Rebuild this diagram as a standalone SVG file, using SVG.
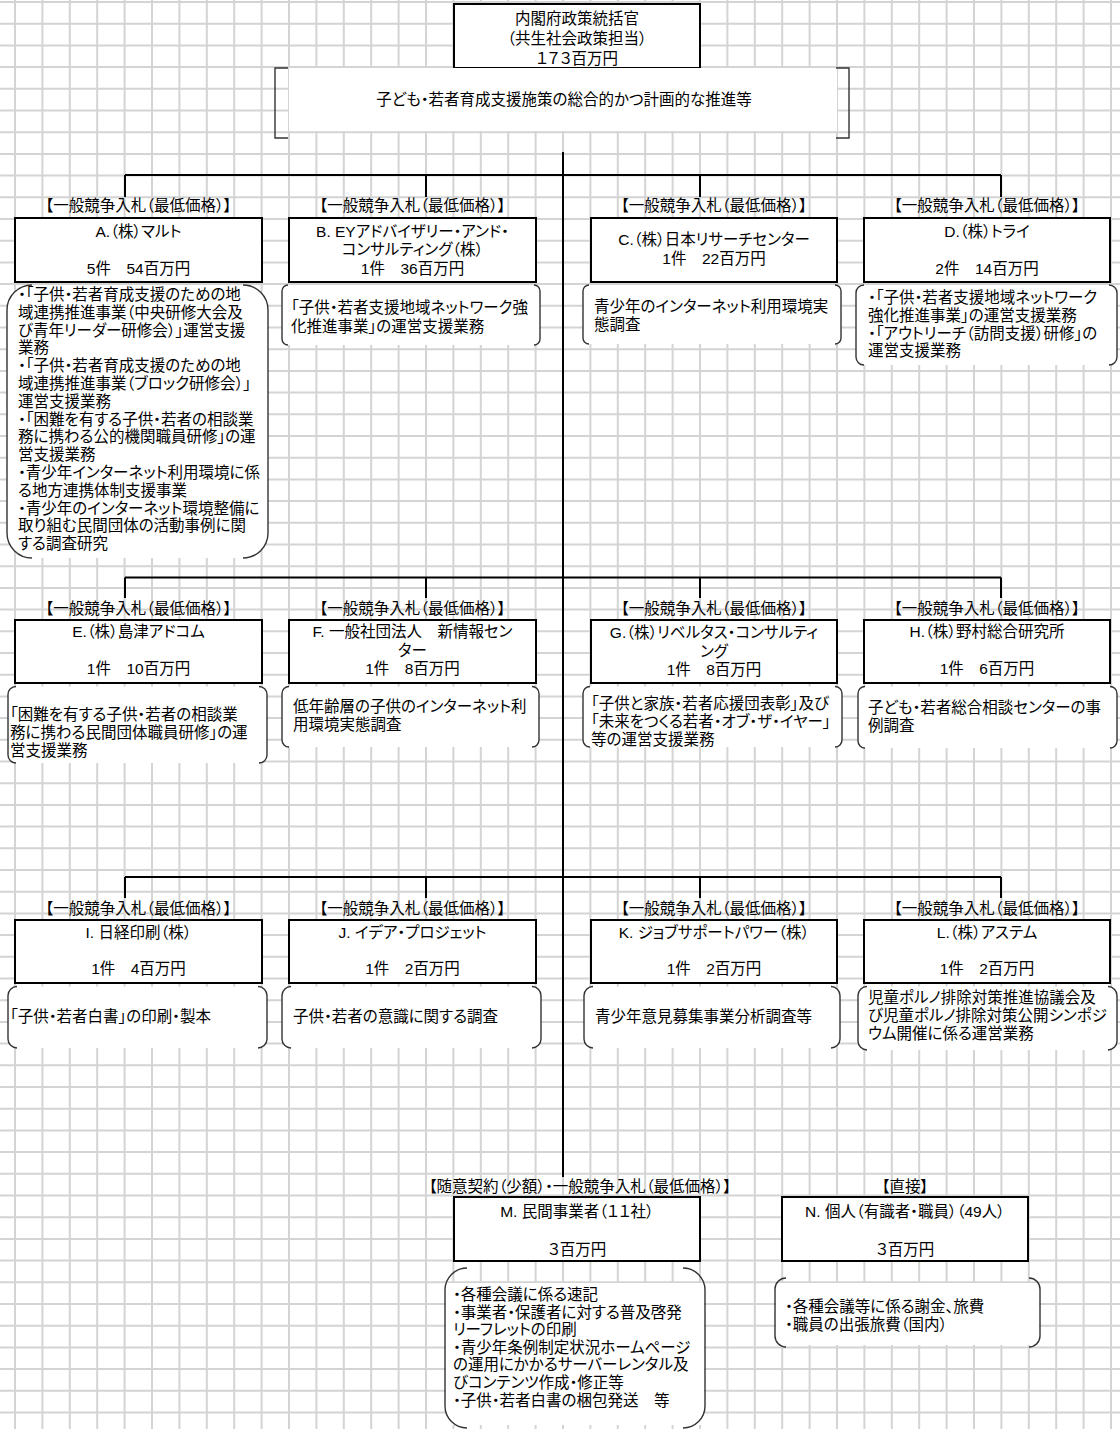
<svg xmlns="http://www.w3.org/2000/svg" width="1120" height="1429" viewBox="0 0 1120 1429">
<style>
text{font-family:"Liberation Sans","Noto Sans CJK JP",sans-serif;font-size:15.5px;fill:#000;font-feature-settings:"palt"}
.m{text-anchor:middle}
.bx{fill:#fff;stroke:#000;stroke-width:2}
.ln{fill:none;stroke:#000;stroke-width:2}
.bk{fill:none;stroke:#333;stroke-width:1.4}
.wf{fill:#fff}
.gr{fill:none;stroke:#d4d4d4;stroke-width:2}
</style>
<rect width="1120" height="1429" fill="#fff"/>
<path class="gr" d="M15 0V1429M42.4 0V1429M69.8 0V1429M97.2 0V1429M124.6 0V1429M152 0V1429M179.4 0V1429M206.8 0V1429M234.2 0V1429M261.6 0V1429M289 0V1429M316.4 0V1429M343.8 0V1429M371.2 0V1429M398.6 0V1429M426 0V1429M453.4 0V1429M480.8 0V1429M508.2 0V1429M535.6 0V1429M563 0V1429M590.4 0V1429M617.8 0V1429M645.2 0V1429M672.6 0V1429M700 0V1429M727.4 0V1429M754.8 0V1429M782.2 0V1429M809.6 0V1429M837 0V1429M864.4 0V1429M891.8 0V1429M919.2 0V1429M946.6 0V1429M974 0V1429M1001.4 0V1429M1028.8 0V1429M1056.2 0V1429M1083.6 0V1429M1111 0V1429
M0 2H1120M0 23.7H1120M0 45.4H1120M0 67.1H1120M0 88.8H1120M0 110.5H1120M0 132.2H1120M0 153.9H1120M0 175.6H1120M0 197.3H1120M0 219H1120M0 240.7H1120M0 262.4H1120M0 284.1H1120M0 305.8H1120M0 327.5H1120M0 349.2H1120M0 370.9H1120M0 392.6H1120M0 414.3H1120M0 436H1120M0 457.7H1120M0 479.4H1120M0 501.1H1120M0 522.8H1120M0 544.5H1120M0 566.2H1120M0 587.9H1120M0 609.6H1120M0 631.3H1120M0 653H1120M0 674.7H1120M0 696.4H1120M0 718.1H1120M0 739.8H1120M0 761.5H1120M0 783.2H1120M0 804.9H1120M0 826.6H1120M0 848.3H1120M0 870H1120M0 891.7H1120M0 913.4H1120M0 935.1H1120M0 956.8H1120M0 978.5H1120M0 1000.2H1120M0 1021.9H1120M0 1043.6H1120M0 1065.3H1120M0 1087H1120M0 1108.7H1120M0 1130.4H1120M0 1152.1H1120M0 1173.8H1120M0 1195.5H1120M0 1217.2H1120M0 1238.9H1120M0 1260.6H1120M0 1282.3H1120M0 1304H1120M0 1325.7H1120M0 1347.4H1120M0 1369.1H1120M0 1390.8H1120M0 1412.5H1120"/>

<g id="connectors">
<path class="ln" d="M563 152V1177"/>
<path class="ln" d="M125 175H1001M125 175V197M426 175V197M700 175V197M1001 175V197"/>
<path class="ln" d="M125 577.5H1001M125 577.5V598M426 577.5V598M700 577.5V598M1001 577.5V598"/>
<path class="ln" d="M125 877H1001M125 877V898M426 877V898M700 877V898M1001 877V898"/>
</g>

<g id="root">
<rect class="bx" x="454" y="4" width="246" height="64"/>
<text class="m" x="577" y="23.5">内閣府政策統括官</text>
<text class="m" x="577" y="44">（共生社会政策担当）</text>
<text class="m" x="577" y="64">１７３百万円</text>
</g>

<g id="mission">
<rect class="wf" x="289" y="68" width="548" height="63"/>
<path class="bk" d="M288 68H275V138H288M836 68H849V138H836"/>
<text class="m" x="564" y="105">子ども・若者育成支援施策の総合的かつ計画的な推進等</text>
</g>

<g id="nodeA">
<text class="m" x="138.5" y="210.5">【一般競争入札（最低価格）】</text>
<rect class="bx" x="15" y="218" width="247" height="64"/>
<text class="m" x="138.5" y="236.5">A.（株）マルト</text>
<text class="m" x="138.5" y="273.5">5件　54百万円</text>
<rect class="wf" x="7" y="285" width="261" height="273" rx="25"/>
<path class="bk" d="M32 285A25 25 0 0 0 7 310V533A25 25 0 0 0 32 558M243 285A25 25 0 0 1 268 310V533A25 25 0 0 1 243 558"/>
<text x="18" y="300">・「子供・若者育成支援のための地</text>
<text x="18" y="317.8">域連携推進事業（中央研修大会及</text>
<text x="18" y="335.6">び青年リーダー研修会）」運営支援</text>
<text x="18" y="353.4">業務</text>
<text x="18" y="371.2">・「子供・若者育成支援のための地</text>
<text x="18" y="389">域連携推進事業（ブロック研修会）」</text>
<text x="18" y="406.8">運営支援業務</text>
<text x="18" y="424.6">・「困難を有する子供・若者の相談業</text>
<text x="18" y="442.4">務に携わる公的機関職員研修」の運</text>
<text x="18" y="460.2">営支援業務</text>
<text x="18" y="478">・青少年インターネット利用環境に係</text>
<text x="18" y="495.8">る地方連携体制支援事業</text>
<text x="18" y="513.6">・青少年のインターネット環境整備に</text>
<text x="18" y="531.4">取り組む民間団体の活動事例に関</text>
<text x="18" y="549.2">する調査研究</text>
</g>

<g id="nodeB">
<text class="m" x="412.5" y="210.5">【一般競争入札（最低価格）】</text>
<rect class="bx" x="289" y="218" width="247" height="64"/>
<text class="m" x="412.5" y="236.5">B. EYアドバイザリー・アンド・</text>
<text class="m" x="412.5" y="255">コンサルティング（株）</text>
<text class="m" x="412.5" y="273.5">1件　36百万円</text>
<rect class="wf" x="282" y="285" width="258" height="60" rx="6"/>
<path class="bk" d="M288 285A6 6 0 0 0 282 291V339A6 6 0 0 0 288 345M534 285A6 6 0 0 1 540 291V339A6 6 0 0 1 534 345"/>
<text x="291" y="313">「子供・若者支援地域ネットワーク強</text>
<text x="291" y="331.5">化推進事業」の運営支援業務</text>
</g>

<g id="nodeC">
<text class="m" x="714" y="210.5">【一般競争入札（最低価格）】</text>
<rect class="bx" x="591" y="218" width="246" height="64"/>
<text class="m" x="714" y="245">C.（株）日本リサーチセンター</text>
<text class="m" x="714" y="264">1件　22百万円</text>
<rect class="wf" x="583" y="285" width="258" height="59" rx="6"/>
<path class="bk" d="M589 285A6 6 0 0 0 583 291V338A6 6 0 0 0 589 344M835 285A6 6 0 0 1 841 291V338A6 6 0 0 1 835 344"/>
<text x="594" y="312">青少年のインターネット利用環境実</text>
<text x="594" y="330">態調査</text>
</g>

<g id="nodeD">
<text class="m" x="987" y="210.5">【一般競争入札（最低価格）】</text>
<rect class="bx" x="864" y="218" width="246" height="64"/>
<text class="m" x="987" y="236.5">D.（株）トライ</text>
<text class="m" x="987" y="273.5">2件　14百万円</text>
<rect class="wf" x="856" y="285" width="261" height="80" rx="8"/>
<path class="bk" d="M864 285A8 8 0 0 0 856 293V357A8 8 0 0 0 864 365M1109 285A8 8 0 0 1 1117 293V357A8 8 0 0 1 1109 365"/>
<text x="868" y="303">・「子供・若者支援地域ネットワーク</text>
<text x="868" y="320.8">強化推進事業」の運営支援業務</text>
<text x="868" y="338.6">・「アウトリーチ（訪問支援）研修」の</text>
<text x="868" y="356.4">運営支援業務</text>
</g>

<g id="nodeE">
<text class="m" x="138.5" y="613.5">【一般競争入札（最低価格）】</text>
<rect class="bx" x="15" y="620" width="247" height="63"/>
<text class="m" x="138.5" y="637">E.（株）島津アドコム</text>
<text class="m" x="138.5" y="674">1件　10百万円</text>
<rect class="wf" x="8" y="686.5" width="259" height="76.5" rx="8"/>
<path class="bk" d="M16 686.5A8 8 0 0 0 8 694.5V755A8 8 0 0 0 16 763M259 686.5A8 8 0 0 1 267 694.5V755A8 8 0 0 1 259 763"/>
<text x="10" y="720">「困難を有する子供・若者の相談業</text>
<text x="10" y="738">務に携わる民間団体職員研修」の運</text>
<text x="10" y="756">営支援業務</text>
</g>

<g id="nodeF">
<text class="m" x="412.5" y="613.5">【一般競争入札（最低価格）】</text>
<rect class="bx" x="289" y="620" width="247" height="63"/>
<text class="m" x="412.5" y="637">F. 一般社団法人　新情報セン</text>
<text class="m" x="412.5" y="655.5">ター</text>
<text class="m" x="412.5" y="674">1件　8百万円</text>
<rect class="wf" x="282" y="686.5" width="257" height="60.5" rx="7"/>
<path class="bk" d="M289 686.5A7 7 0 0 0 282 693.5V740A7 7 0 0 0 289 747M532 686.5A7 7 0 0 1 539 693.5V740A7 7 0 0 1 532 747"/>
<text x="293" y="712">低年齢層の子供のインターネット利</text>
<text x="293" y="730">用環境実態調査</text>
</g>

<g id="nodeG">
<text class="m" x="714" y="613.5">【一般競争入札（最低価格）】</text>
<rect class="bx" x="591" y="620" width="246" height="63"/>
<text class="m" x="714" y="638">G.（株）リベルタス・コンサルティ</text>
<text class="m" x="714" y="656.5">ング</text>
<text class="m" x="714" y="675">1件　8百万円</text>
<rect class="wf" x="583" y="686.5" width="259" height="60.5" rx="7"/>
<path class="bk" d="M590 686.5A7 7 0 0 0 583 693.5V740A7 7 0 0 0 590 747M835 686.5A7 7 0 0 1 842 693.5V740A7 7 0 0 1 835 747"/>
<text x="591" y="709">「子供と家族・若者応援団表彰」及び</text>
<text x="591" y="727">「未来をつくる若者・オブ・ザ・イヤー」</text>
<text x="591" y="745">等の運営支援業務</text>
</g>

<g id="nodeH">
<text class="m" x="987" y="613.5">【一般競争入札（最低価格）】</text>
<rect class="bx" x="864" y="620" width="246" height="63"/>
<text class="m" x="987" y="636.5">H.（株）野村総合研究所</text>
<text class="m" x="987" y="674">1件　6百万円</text>
<rect class="wf" x="858" y="686.5" width="259" height="61.5" rx="7"/>
<path class="bk" d="M865 686.5A7 7 0 0 0 858 693.5V741A7 7 0 0 0 865 748M1110 686.5A7 7 0 0 1 1117 693.5V741A7 7 0 0 1 1110 748"/>
<text x="868" y="713">子ども・若者総合相談センターの事</text>
<text x="868" y="731">例調査</text>
</g>

<g id="nodeI">
<text class="m" x="138.5" y="913.5">【一般競争入札（最低価格）】</text>
<rect class="bx" x="15" y="920" width="247" height="63"/>
<text class="m" x="138.5" y="938">I. 日経印刷（株）</text>
<text class="m" x="138.5" y="974">1件　4百万円</text>
<rect class="wf" x="8" y="986.5" width="259" height="61.5" rx="9"/>
<path class="bk" d="M17 986.5A9 9 0 0 0 8 995.5V1039A9 9 0 0 0 17 1048M258 986.5A9 9 0 0 1 267 995.5V1039A9 9 0 0 1 258 1048"/>
<text x="10" y="1021.5">「子供・若者白書」の印刷・製本</text>
</g>

<g id="nodeJ">
<text class="m" x="412.5" y="913.5">【一般競争入札（最低価格）】</text>
<rect class="bx" x="289" y="920" width="247" height="63"/>
<text class="m" x="412.5" y="938">J. イデア・プロジェット</text>
<text class="m" x="412.5" y="974">1件　2百万円</text>
<rect class="wf" x="282" y="986.5" width="259" height="61.5" rx="9"/>
<path class="bk" d="M291 986.5A9 9 0 0 0 282 995.5V1039A9 9 0 0 0 291 1048M532 986.5A9 9 0 0 1 541 995.5V1039A9 9 0 0 1 532 1048"/>
<text x="293" y="1021.5">子供・若者の意識に関する調査</text>
</g>

<g id="nodeK">
<text class="m" x="714" y="913.5">【一般競争入札（最低価格）】</text>
<rect class="bx" x="591" y="920" width="246" height="63"/>
<text class="m" x="714" y="938">K. ジョブサポートパワー（株）</text>
<text class="m" x="714" y="974">1件　2百万円</text>
<rect class="wf" x="584" y="986.5" width="256" height="61.5" rx="9"/>
<path class="bk" d="M593 986.5A9 9 0 0 0 584 995.5V1039A9 9 0 0 0 593 1048M831 986.5A9 9 0 0 1 840 995.5V1039A9 9 0 0 1 831 1048"/>
<text x="595" y="1021.5">青少年意見募集事業分析調査等</text>
</g>

<g id="nodeL">
<text class="m" x="987" y="913.5">【一般競争入札（最低価格）】</text>
<rect class="bx" x="864" y="920" width="246" height="63"/>
<text class="m" x="987" y="938">L.（株）アステム</text>
<text class="m" x="987" y="974">1件　2百万円</text>
<rect class="wf" x="858" y="986.5" width="259" height="63.5" rx="9"/>
<path class="bk" d="M867 986.5A9 9 0 0 0 858 995.5V1041A9 9 0 0 0 867 1050M1108 986.5A9 9 0 0 1 1117 995.5V1041A9 9 0 0 1 1108 1050"/>
<text x="868" y="1003">児童ポルノ排除対策推進協議会及</text>
<text x="868" y="1020.8">び児童ポルノ排除対策公開シンポジ</text>
<text x="868" y="1038.6">ウム開催に係る運営業務</text>
</g>

<g id="nodeM">
<text class="m" x="580" y="1192">【随意契約（少額）・一般競争入札（最低価格）】</text>
<rect class="bx" x="454" y="1197" width="246" height="64"/>
<text class="m" x="577" y="1216.7">M. 民間事業者（１１社）</text>
<text class="m" x="577" y="1255">３百万円</text>
<rect class="wf" x="446" y="1283" width="258" height="142"/>
<path class="bk" d="M467 1268A22 22 0 0 0 445 1290V1406A22 22 0 0 0 467 1428M683 1268A22 22 0 0 1 705 1290V1406A22 22 0 0 1 683 1428"/>
<text x="453" y="1300">・各種会議に係る速記</text>
<text x="453" y="1317.6">・事業者・保護者に対する普及啓発</text>
<text x="453" y="1335.2">リーフレットの印刷</text>
<text x="453" y="1352.8">・青少年条例制定状況ホームページ</text>
<text x="453" y="1370.4">の運用にかかるサーバーレンタル及</text>
<text x="453" y="1388">びコンテンツ作成・修正等</text>
<text x="453" y="1405.6">・子供・若者白書の梱包発送　等</text>
</g>

<g id="nodeN">
<text class="m" x="905" y="1192">【直接】</text>
<rect class="bx" x="782" y="1197" width="246" height="64"/>
<text class="m" x="905" y="1216.7">N. 個人（有識者・職員）（49人）</text>
<text class="m" x="905" y="1255">３百万円</text>
<rect class="wf" x="776" y="1283" width="263" height="62"/>
<path class="bk" d="M786 1278A11 11 0 0 0 775 1289V1336A11 11 0 0 0 786 1347M1029 1278A11 11 0 0 1 1040 1289V1336A11 11 0 0 1 1029 1347"/>
<text x="785" y="1311.7">・各種会議等に係る謝金、旅費</text>
<text x="785" y="1330">・職員の出張旅費（国内）</text>
</g>
</svg>
